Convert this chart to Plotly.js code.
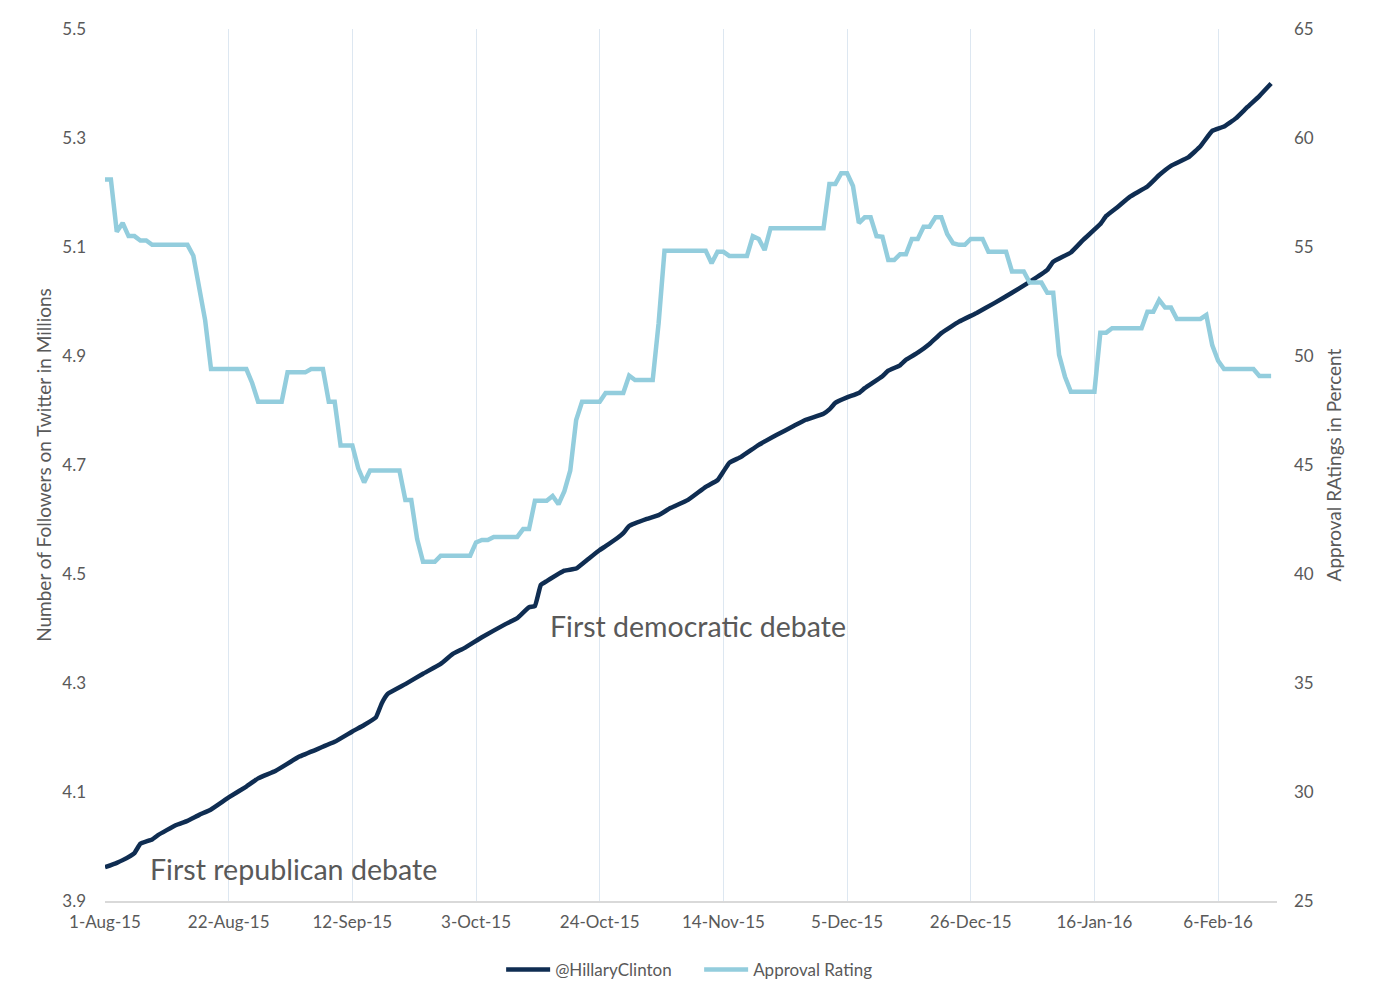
<!DOCTYPE html>
<html>
<head>
<meta charset="utf-8">
<script src="https://cdn.plot.ly/plotly-3.0.1.min.js"></script>
<style>
  html, body { margin: 0; padding: 0; background: #ffffff; }
  #chart { width: 1376px; height: 1005px; }
</style>
</head>
<body>
<div id="chart"></div>
<script>
// Twitter followers of @HillaryClinton (millions)
const followerDates = [
  '2015-08-01','2015-08-03','2015-08-04','2015-08-06','2015-08-07','2015-08-09','2015-08-10','2015-08-13',
  '2015-08-15','2015-08-17','2015-08-19','2015-08-22','2015-08-25','2015-08-27','2015-08-30','2015-09-03',
  '2015-09-09','2015-09-12','2015-09-14','2015-09-16','2015-09-17','2015-09-18','2015-09-21','2015-09-24',
  '2015-09-27','2015-09-29','2015-10-01','2015-10-04','2015-10-08','2015-10-10','2015-10-12','2015-10-13',
  '2015-10-14','2015-10-15','2015-10-18','2015-10-20','2015-10-22','2015-10-24','2015-10-25','2015-10-27',
  '2015-10-28','2015-10-29','2015-11-01','2015-11-03','2015-11-05','2015-11-08','2015-11-11','2015-11-13',
  '2015-11-14','2015-11-15','2015-11-17','2015-11-20','2015-11-23','2015-11-26','2015-11-28','2015-12-01',
  '2015-12-02','2015-12-03','2015-12-05','2015-12-07','2015-12-08','2015-12-11','2015-12-12','2015-12-14',
  '2015-12-15','2015-12-17','2015-12-19','2015-12-21','2015-12-24','2015-12-27','2015-12-30','2016-01-02',
  '2016-01-05','2016-01-08','2016-01-09','2016-01-12','2016-01-14','2016-01-17','2016-01-18','2016-01-20',
  '2016-01-22','2016-01-25','2016-01-27','2016-01-29','2016-02-01','2016-02-03','2016-02-05','2016-02-07',
  '2016-02-09','2016-02-11','2016-02-13','2016-02-15'
];
const followerValues = [
  3.962,3.970,3.975,3.988,4.005,4.013,4.021,4.039,
  4.047,4.058,4.068,4.090,4.110,4.125,4.139,4.165,
  4.192,4.211,4.223,4.237,4.263,4.280,4.298,4.317,
  4.335,4.353,4.364,4.384,4.408,4.419,4.439,4.441,
  4.480,4.487,4.506,4.510,4.527,4.544,4.551,4.566,
  4.575,4.588,4.601,4.608,4.621,4.636,4.660,4.672,
  4.688,4.704,4.715,4.737,4.755,4.772,4.783,4.794,
  4.802,4.814,4.824,4.832,4.841,4.863,4.873,4.883,
  4.893,4.906,4.922,4.942,4.963,4.979,4.997,5.016,
  5.036,5.058,5.073,5.090,5.112,5.142,5.157,5.174,
  5.192,5.211,5.232,5.249,5.265,5.285,5.313,5.321,
  5.336,5.357,5.377,5.400
];

// Approval rating (percent)
const approvalDates = [
  '2015-08-01','2015-08-02','2015-08-03','2015-08-04','2015-08-05','2015-08-06','2015-08-07','2015-08-08',
  '2015-08-09','2015-08-15','2015-08-16','2015-08-17','2015-08-18','2015-08-19','2015-08-25','2015-08-26',
  '2015-08-27','2015-08-31','2015-09-01','2015-09-04','2015-09-05','2015-09-07','2015-09-08','2015-09-09',
  '2015-09-10','2015-09-12','2015-09-13','2015-09-14','2015-09-15','2015-09-20','2015-09-21','2015-09-22',
  '2015-09-23','2015-09-24','2015-09-26','2015-09-27','2015-10-02','2015-10-03','2015-10-04','2015-10-05',
  '2015-10-06','2015-10-10','2015-10-11','2015-10-12','2015-10-13','2015-10-15','2015-10-16','2015-10-17',
  '2015-10-18','2015-10-19','2015-10-20','2015-10-21','2015-10-24','2015-10-25','2015-10-28','2015-10-29',
  '2015-10-30','2015-11-02','2015-11-03','2015-11-04','2015-11-11','2015-11-12','2015-11-13','2015-11-14',
  '2015-11-15','2015-11-18','2015-11-19','2015-11-20','2015-11-21','2015-11-22','2015-12-01','2015-12-02',
  '2015-12-03','2015-12-04','2015-12-05','2015-12-06','2015-12-07','2015-12-08','2015-12-09','2015-12-10',
  '2015-12-11','2015-12-12','2015-12-13','2015-12-14','2015-12-15','2015-12-16','2015-12-17','2015-12-18',
  '2015-12-19','2015-12-20','2015-12-21','2015-12-22','2015-12-23','2015-12-24','2015-12-25','2015-12-26',
  '2015-12-28','2015-12-29','2016-01-01','2016-01-02','2016-01-04','2016-01-05','2016-01-07','2016-01-08',
  '2016-01-09','2016-01-10','2016-01-11','2016-01-12','2016-01-16','2016-01-17','2016-01-18','2016-01-19',
  '2016-01-24','2016-01-25','2016-01-26','2016-01-27','2016-01-28','2016-01-29','2016-01-30','2016-02-03',
  '2016-02-04','2016-02-05','2016-02-06','2016-02-07','2016-02-12','2016-02-13','2016-02-15'
];
const approvalValues = [
  58.1,58.1,55.7,56.1,55.5,55.5,55.3,55.3,
  55.1,55.1,54.6,53.0,51.65,49.4,49.4,48.75,
  47.9,47.9,49.25,49.25,49.4,49.4,47.9,47.9,
  45.9,45.9,44.85,44.2,44.75,44.75,43.4,43.4,
  41.6,40.56,40.56,40.84,40.84,41.45,41.56,41.56,
  41.7,41.7,42.06,42.06,43.36,43.36,43.58,43.2,
  43.8,44.75,47.06,47.9,47.9,48.3,48.3,49.1,
  48.9,48.9,51.5,54.83,54.83,54.25,54.78,54.78,
  54.59,54.59,55.5,55.37,54.86,55.86,55.86,57.89,
  57.89,58.38,58.38,57.8,56.1,56.36,56.36,55.5,
  55.47,54.4,54.4,54.67,54.67,55.37,55.37,55.93,
  55.93,56.36,56.36,55.6,55.17,55.1,55.1,55.37,
  55.37,54.78,54.78,53.88,53.88,53.37,53.37,52.9,
  52.9,50.05,49.05,48.36,48.36,51.07,51.07,51.27,
  51.27,52.03,52.03,52.57,52.22,52.22,51.7,51.7,
  51.88,50.5,49.78,49.4,49.4,49.08,49.08
];

const seriesNames = ['@HillaryClinton', 'Approval Rating'];
const annotationTexts = ['First republican debate', 'First democratic debate'];

const FONT = 'Lato, "Open Sans", sans-serif';
const GREY = '#595959';

const traces = [
  {
    x: followerDates, y: followerValues, name: seriesNames[0],
    type: 'scatter', mode: 'lines',
    line: { color: '#0f2d52', width: 4.5, shape: 'spline', smoothing: 0.3 },
    yaxis: 'y'
  },
  {
    x: approvalDates, y: approvalValues, name: seriesNames[1],
    type: 'scatter', mode: 'lines',
    line: { color: '#93cddd', width: 4.5 },
    yaxis: 'y2'
  }
];

const layout = {
  width: 1376, height: 1005,
  paper_bgcolor: '#ffffff', plot_bgcolor: '#ffffff',
  margin: { l: 105, r: 99, t: 29, b: 104 },
  font: { family: FONT, color: GREY, size: 17 },
  showlegend: true,
  legend: {
    orientation: 'h', x: 0.338, xanchor: 'left', y: -0.079, yanchor: 'middle',
    font: { family: FONT, size: 17, color: GREY }, itemwidth: 44, traceorder: 'normal',
    entrywidth: 139, entrywidthmode: 'pixels'
  },
  xaxis: {
    type: 'date',
    range: ['2015-08-01', '2016-02-16'],
    tick0: '2015-08-01', dtick: 21 * 86400000,
    tickformat: '%-d-%b-%y',
    showgrid: true, gridcolor: '#dde7f1', gridwidth: 1,
    showline: true, linecolor: '#d9d9d9', linewidth: 2,
    zeroline: false, ticks: '',
    tickfont: { family: FONT, size: 17, color: GREY },
    ticklabelstandoff: 5
  },
  yaxis: {
    range: [3.9, 5.5], dtick: 0.2, tick0: 3.9, tickformat: '.1f',
    showgrid: false, zeroline: false, showline: false, ticks: '',
    tickfont: { family: FONT, size: 17, color: GREY },
    ticklabelstandoff: 18,
    title: { text: 'Number of Followers on Twitter in Millions', font: { family: FONT, size: 19, color: GREY }, standoff: 5 }
  },
  yaxis2: {
    range: [25, 65], dtick: 5, tick0: 25,
    overlaying: 'y', side: 'right',
    showgrid: false, zeroline: false, showline: false, ticks: '',
    tickfont: { family: FONT, size: 17, color: GREY },
    ticklabelstandoff: 16,
    title: { text: 'Approval RAtings in Percent', font: { family: FONT, size: 19, color: GREY }, standoff: 14 }
  },
  annotations: [
    { text: annotationTexts[0], xref: 'paper', yref: 'paper', x: 0.0367, y: 0.0367,
      xanchor: 'left', yanchor: 'middle', showarrow: false,
      font: { family: FONT, size: 28.6, color: GREY } },
    { text: annotationTexts[1], xref: 'paper', yref: 'paper', x: 0.378, y: 0.3154,
      xanchor: 'left', yanchor: 'middle', showarrow: false,
      font: { family: FONT, size: 28.5, color: GREY } }
  ]
};

Plotly.newPlot('chart', traces, layout, { displayModeBar: false, staticPlot: true });
</script>
</body>
</html>
